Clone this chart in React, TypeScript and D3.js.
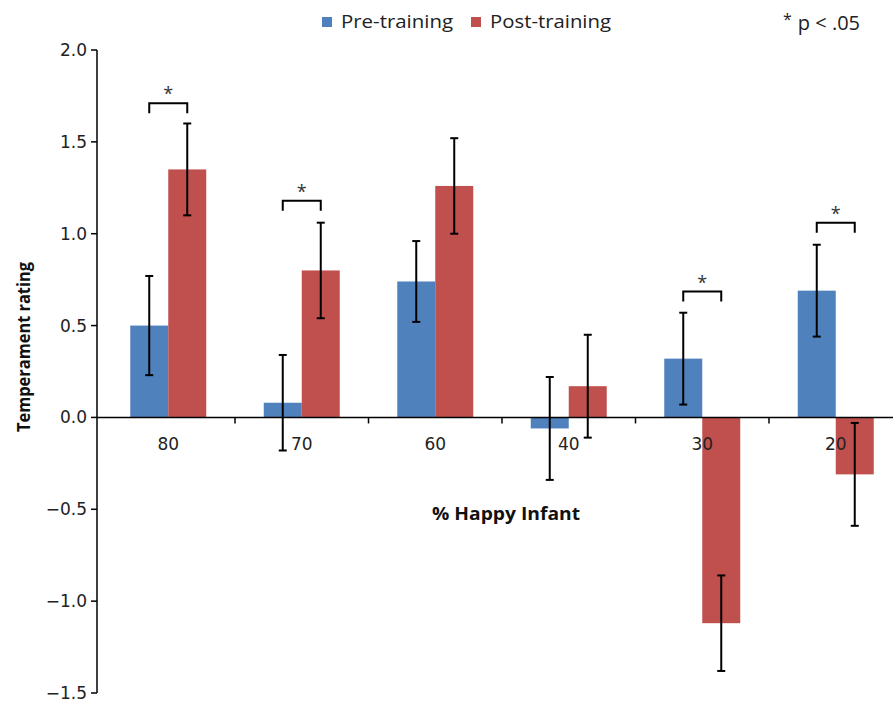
import React, { useEffect, useRef } from "react";
import * as d3 from "d3";

const categories = ["80", "70", "60", "40", "30", "20"];
const preValues = [0.5, 0.08, 0.74, -0.06, 0.32, 0.69];
const postValues = [1.35, 0.8, 1.26, 0.17, -1.12, -0.31];
const preErrors = [0.27, 0.26, 0.22, 0.28, 0.25, 0.25];
const postErrors = [0.25, 0.26, 0.26, 0.28, 0.26, 0.28];
// significance brackets: category and bracket height (data units)
const sigBrackets = [
  { cat: "80", y: 1.71 },
  { cat: "70", y: 1.18 },
  { cat: "30", y: 0.685 },
  { cat: "20", y: 1.06 },
];
const yTicks = [2.0, 1.5, 1.0, 0.5, 0.0, -0.5, -1.0, -1.5];
const seriesNames = ["Pre-training", "Post-training"];
const seriesColors = ["#4F81BD", "#C0504D"];

const W = 893;
const H = 705;
const labelFont = "'Open Sans', 'Noto Sans', sans-serif";
const tickFont = "'DejaVu Sans', Verdana, sans-serif";

function renderChart(node: SVGSVGElement) {
  const svg = d3.select(node);
  svg.selectAll("*").remove();

  const y = d3.scaleLinear().domain([-1.5, 2.0]).range([693, 50]);
  const x = d3.scaleBand().domain(categories).range([101.5, 902.5]);
  const barW = 38;
  const axisX = 97;

  // bars
  const series = [preValues, postValues];
  const errs = [preErrors, postErrors];
  series.forEach((vals, si) => {
    const g = svg.append("g");
    g.selectAll("rect")
      .data(vals)
      .enter()
      .append("rect")
      .attr("x", (_, i) => x(categories[i])! + x.bandwidth() / 2 - barW + si * barW)
      .attr("y", (v) => Math.min(y(v), y(0)))
      .attr("width", barW)
      .attr("height", (v) => Math.abs(y(v) - y(0)))
      .attr("fill", seriesColors[si]);
  });

  // zero line and x ticks
  svg
    .append("line")
    .attr("x1", axisX)
    .attr("x2", W)
    .attr("y1", y(0))
    .attr("y2", y(0))
    .attr("stroke", "#000")
    .attr("stroke-width", 1.5);

  categories.slice(1).forEach((c) => {
    const xx = x(c)!;
    svg
      .append("line")
      .attr("x1", xx)
      .attr("x2", xx)
      .attr("y1", y(0))
      .attr("y2", y(0) + 6)
      .attr("stroke", "#000")
      .attr("stroke-width", 1.5);
  });

  // error bars
  series.forEach((vals, si) => {
    vals.forEach((v, i) => {
      const cx = x(categories[i])! + x.bandwidth() / 2 - barW / 2 + si * barW;
      const lo = y(v - errs[si][i]);
      const hi = y(v + errs[si][i]);
      const g = svg.append("g").attr("stroke", "#000").attr("stroke-width", 2);
      g.append("line").attr("x1", cx).attr("x2", cx).attr("y1", lo).attr("y2", hi);
      g.append("line").attr("x1", cx - 4).attr("x2", cx + 4).attr("y1", lo).attr("y2", lo);
      g.append("line").attr("x1", cx - 4).attr("x2", cx + 4).attr("y1", hi).attr("y2", hi);
    });
  });

  // significance brackets
  sigBrackets.forEach((b) => {
    const c = x(b.cat)! + x.bandwidth() / 2;
    const x1 = c - barW / 2;
    const x2 = c + barW / 2;
    const yy = y(b.y);
    svg
      .append("path")
      .attr("d", `M${x1},${yy + 10}V${yy}H${x2}V${yy + 10}`)
      .attr("fill", "none")
      .attr("stroke", "#000")
      .attr("stroke-width", 2);
    svg
      .append("text")
      .attr("x", c)
      .attr("y", yy - 3)
      .attr("text-anchor", "middle")
      .attr("font-family", labelFont)
      .attr("font-size", 18)
      .attr("fill", "#333")
      .text("*");
  });

  // category labels
  svg
    .append("g")
    .selectAll("text")
    .data(categories)
    .enter()
    .append("text")
    .attr("x", (c) => x(c)! + x.bandwidth() / 2)
    .attr("y", y(0) + 33)
    .attr("text-anchor", "middle")
    .attr("font-family", tickFont)
    .attr("font-size", 17)
    .attr("fill", "#222")
    .text((c) => c);

  // y axis
  svg
    .append("line")
    .attr("x1", axisX)
    .attr("x2", axisX)
    .attr("y1", y(2))
    .attr("y2", y(-1.5))
    .attr("stroke", "#000")
    .attr("stroke-width", 1.5);
  const yg = svg.append("g");
  yTicks.forEach((t) => {
    yg.append("line")
      .attr("x1", axisX - 6)
      .attr("x2", axisX)
      .attr("y1", y(t))
      .attr("y2", y(t))
      .attr("stroke", "#000")
      .attr("stroke-width", 1.5);
    yg.append("text")
      .attr("x", axisX - 10)
      .attr("y", y(t))
      .attr("dy", "0.35em")
      .attr("text-anchor", "end")
      .attr("font-family", tickFont)
      .attr("font-size", 17)
      .attr("fill", "#222")
      .text((t < 0 ? "\u2212" : "") + Math.abs(t).toFixed(1));
  });

  // axis titles
  svg
    .append("text")
    .attr("transform", "translate(30,347) rotate(-90)")
    .attr("text-anchor", "middle")
    .attr("font-family", labelFont)
    .attr("font-weight", "bold")
    .attr("font-size", 18)
    .attr("textLength", 170)
    .attr("lengthAdjust", "spacingAndGlyphs")
    .attr("fill", "#111")
    .text("Temperament rating");
  svg
    .append("text")
    .attr("x", 506)
    .attr("y", 520)
    .attr("text-anchor", "middle")
    .attr("font-family", labelFont)
    .attr("font-weight", "bold")
    .attr("font-size", 18)
    .attr("textLength", 148)
    .attr("lengthAdjust", "spacingAndGlyphs")
    .attr("fill", "#111")
    .text("% Happy Infant");

  // legend
  const legendX = [322, 471];
  const legendLen = [112, 121];
  seriesNames.forEach((name, i) => {
    svg
      .append("rect")
      .attr("x", legendX[i])
      .attr("y", 17)
      .attr("width", 10)
      .attr("height", 10)
      .attr("fill", seriesColors[i]);
    svg
      .append("text")
      .attr("x", legendX[i] + 19)
      .attr("y", 28)
      .attr("font-family", labelFont)
      .attr("font-size", 18)
      .attr("textLength", legendLen[i])
      .attr("lengthAdjust", "spacingAndGlyphs")
      .attr("fill", "#222")
      .text(name);
  });
  const pNote = svg
    .append("text")
    .attr("x", 783)
    .attr("y", 30)
    .attr("font-family", labelFont)
    .attr("font-size", 20)
    .attr("fill", "#222");
  pNote.append("tspan").attr("font-size", 16).attr("dy", -5).text("*");
  pNote.append("tspan").attr("dx", 6).attr("dy", 5).text("p < .05");
}

export default function App() {
  const ref = useRef<SVGSVGElement>(null);
  useEffect(() => {
    if (ref.current) renderChart(ref.current);
  }, []);
  return (
    <svg
      ref={ref}
      width={W}
      height={H}
      style={{ position: "absolute", left: 0, top: 0, background: "#fff" }}
    />
  );
}
